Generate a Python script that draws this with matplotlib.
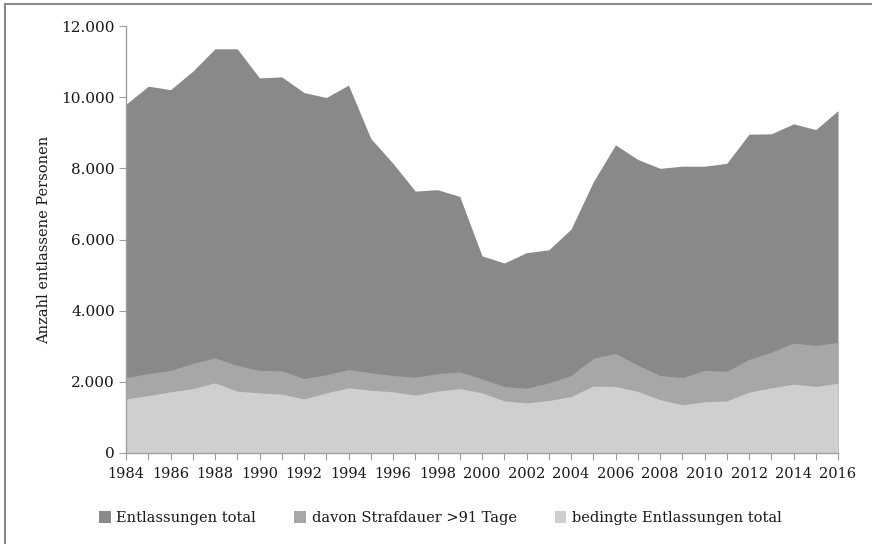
import numpy as np
import matplotlib.pyplot as plt
from matplotlib.patches import Patch
from matplotlib.lines import Line2D
from matplotlib.ticker import FuncFormatter

years = list(range(1984, 2017))

# Entlassungen total
total = [9800, 10310, 10210, 10730, 11360, 11360, 10540, 10570, 10130, 9990,
         10340, 8840, 8140, 7360, 7400, 7210, 5540, 5340, 5630, 5710,
         6290, 7620, 8660, 8250, 8000, 8060, 8060, 8140, 8960, 8970,
         9250, 9090, 9620]

# davon Strafdauer >91 Tage
ueber91 = [2120, 2235, 2320, 2515, 2675, 2460, 2320, 2310, 2095, 2200,
           2345, 2255, 2180, 2130, 2235, 2280, 2085, 1870, 1820, 1970,
           2180, 2660, 2800, 2470, 2180, 2120, 2320, 2300, 2630, 2835,
           3090, 3025, 3110]

# bedingte Entlassungen total
bedingt = [1520, 1615, 1720, 1810, 1970, 1740, 1690, 1655, 1520, 1690,
           1830, 1765, 1720, 1625, 1740, 1810, 1690, 1465, 1410, 1475,
           1590, 1880, 1870, 1730, 1500, 1355, 1440, 1465, 1710, 1830,
           1935, 1870, 1960]

labels = ['Entlassungen total', 'davon Strafdauer >91 Tage', 'bedingte Entlassungen total']
colors = ['#898989', '#a7a7a7', '#cfcfcf']

plt.rcParams['font.family'] = ['DejaVu Serif']

fig = plt.figure(figsize=(8.72, 5.44), dpi=100)
ax = fig.add_axes([126/872, 1 - 453/544, (838 - 126)/872, (453 - 26)/544])

for series, c in zip([total, ueber91, bedingt], colors):
    ax.fill_between(years, 0, series, color=c, linewidth=0)

ax.set_xlim(1984, 2016)
ax.set_ylim(0, 12000)
ax.set_yticks(range(0, 12001, 2000))
ax.yaxis.set_major_formatter(FuncFormatter(lambda v, p: f'{int(v):,}'.replace(',', '.')))
ax.set_xticks(years)
ax.set_xticklabels([str(y) if y % 2 == 0 else '' for y in years])

for s in ['top', 'right']:
    ax.spines[s].set_visible(False)
for s in ['left', 'bottom']:
    ax.spines[s].set_color('#a0a0a0')
    ax.spines[s].set_linewidth(1.0)
ax.tick_params(axis='both', colors='#a0a0a0', labelcolor='#1a1a1a', labelsize=10.5, length=5)
ax.tick_params(axis='x', pad=5)
ax.tick_params(axis='y', pad=3, labelsize=11)

fig.text(44/872, 1 - 240/544, 'Anzahl entlassene Personen', rotation=90,
         ha='center', va='center', fontsize=10.5, color='#1a1a1a')

handles = [Patch(facecolor=c, edgecolor='none') for c in colors]
fig.legend(handles, labels, loc='center', bbox_to_anchor=(0.505, 1 - 518/544), ncol=3,
           frameon=False, fontsize=10.5, handlelength=0.8, handleheight=0.8,
           handletextpad=0.4, columnspacing=2.6, labelcolor='#1a1a1a')

# outer frame (only left and top edge visible)
fig.add_artist(Line2D([5/872, 5/872], [0, 1 - 4/544], transform=fig.transFigure, color='#8a8a8a', lw=1.5))
fig.add_artist(Line2D([5/872, 1], [1 - 4/544, 1 - 4/544], transform=fig.transFigure, color='#8a8a8a', lw=1.5))

fig.savefig('out.png', dpi=100)
